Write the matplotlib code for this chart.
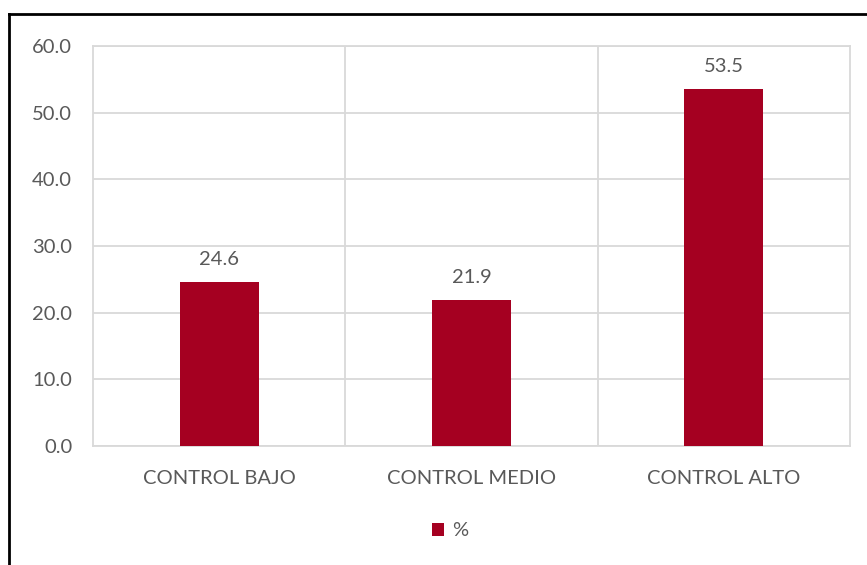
import matplotlib
matplotlib.use('Agg')
import matplotlib.pyplot as plt
from matplotlib.lines import Line2D
import numpy as np

categories = ['CONTROL BAJO', 'CONTROL MEDIO', 'CONTROL ALTO']
values = [24.6, 21.9, 53.5]
yticks = [0, 10, 20, 30, 40, 50, 60]

bar_color = '#A50021'
text_color = '#595959'
grid_color = '#D9D9D9'
fs = 14.5

plt.rcParams['font.family'] = ['Lato', 'DejaVu Sans']

fig = plt.figure(figsize=(8.67, 5.65), dpi=100)
ax = fig.add_axes([93 / 867, 1 - 446 / 565, 757 / 867, 400 / 565])

x = np.arange(len(categories))
ax.bar(x, values, width=0.313, color=bar_color, zorder=3, label='%')

for xi, v in zip(x, values):
    ax.annotate(f'{v:.1f}', (xi, v), xytext=(0, 10), textcoords='offset points',
                ha='center', va='bottom', fontsize=fs, color=text_color)

ax.set_xlim(-0.5, len(categories) - 0.5)
ax.set_ylim(0, 60)
ax.set_yticks(yticks)
ax.set_yticklabels([f'{t:.1f}' for t in yticks], fontsize=fs, color=text_color)
ax.set_xticks(x)
ax.set_xticklabels(categories, fontsize=fs, color=text_color)
ax.tick_params(length=0)
ax.tick_params(axis='x', pad=17)
ax.tick_params(axis='y', pad=15)

ax.grid(axis='y', color=grid_color, linewidth=1.3, zorder=0)
for b in np.arange(0.5, len(categories) - 0.5):
    ax.axvline(b, color=grid_color, linewidth=1.3, zorder=0)
for s in ax.spines.values():
    s.set_color(grid_color)
    s.set_linewidth(1.3)

leg = fig.legend(loc='center', bbox_to_anchor=(450 / 867, 1 - 531 / 565), frameon=False,
                 fontsize=fs, handlelength=0.6, handleheight=0.6, handletextpad=0.4)
for t in leg.get_texts():
    t.set_color(text_color)

# outer chart border (left and top edges visible)
fig.add_artist(Line2D([9 / 867, 9 / 867], [0, 1 - 14 / 565], color='black', linewidth=2,
                      transform=fig.transFigure))
fig.add_artist(Line2D([9 / 867, 1], [1 - 14 / 565, 1 - 14 / 565], color='black', linewidth=2,
                      transform=fig.transFigure))

fig.savefig('out.png', dpi=100)
